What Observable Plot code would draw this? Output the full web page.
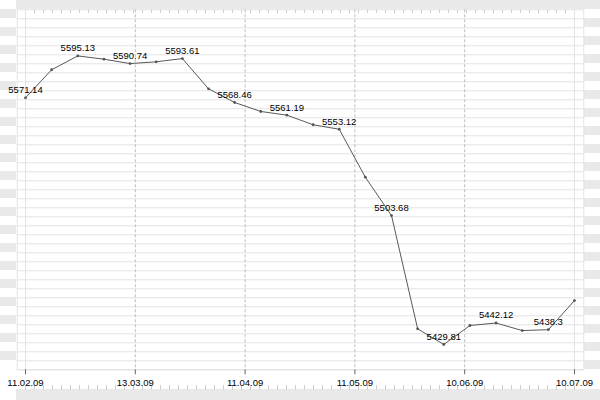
<!DOCTYPE html>
<html>
<head>
<meta charset="utf-8">
<script src="https://cdn.jsdelivr.net/npm/d3@7"></script>
<script src="https://cdn.jsdelivr.net/npm/@observablehq/plot@0.6"></script>
<style>
  html, body { margin: 0; padding: 0; background: #fff; }
  #chart {
    position: relative;
    width: 600px;
    height: 400px;
    background:
      /* top small ticks */
      repeating-linear-gradient(to right, #cfcfcf 0 1px, transparent 1px 9px) 25px 9px / 550px 4px no-repeat,
      /* bottom small ticks */
      repeating-linear-gradient(to right, #cfcfcf 0 1px, transparent 1px 9px) 25px 385px / 550px 5px no-repeat,
      /* top band */
      linear-gradient(#e9e9e9, #e9e9e9) 16px 0 / 584px 9px no-repeat,
      /* bottom band */
      linear-gradient(#e9e9e9, #e9e9e9) 16px 389px / 584px 11px no-repeat,
      /* left stripes */
      repeating-linear-gradient(to bottom, #e9e9e9 0 9px, #fff 9px 18px) 0 9px / 16px 360px no-repeat,
      /* right stripes */
      repeating-linear-gradient(to bottom, #fff 0 9px, #e9e9e9 9px 18px) 584px 9px / 16px 360px no-repeat,
      #fff;
  }
  #chart svg { position: absolute; left: 0; top: 0; }
</style>
</head>
<body>
<div id="chart"></div>
<script>
// Tick labels (dates) shown along the x axis
const dateLabels = ["11.02.09", "13.03.09", "11.04.09", "11.05.09", "10.06.09", "10.07.09"];

// Series values, one per observation (22 points)
const values = [
  5571.14, 5587.2, 5595.13, 5593.25, 5590.74, 5591.76, 5593.61, 5576.3,
  5568.46, 5563.3, 5561.19, 5555.7, 5553.12, 5525.65, 5503.68, 5438.8,
  5429.81, 5440.7, 5442.12, 5437.8, 5438.3, 5455.0
];

const data = values.map((v, i) => ({i, value: v}));
const n = values.length - 1;
const tickPos = dateLabels.map((_, k) => k * n / (dateLabels.length - 1));

const yMin = 5415.32, yMax = 5621.55;
const gridVals = d3.range(40).map(k => yMin + k * (yMax - yMin) / 40);

const font = "Liberation Sans, Arial, sans-serif";

const chart = Plot.plot({
  width: 600,
  height: 400,
  marginLeft: 25,
  marginRight: 26,
  marginTop: 9.3,
  marginBottom: 30.7,
  style: {background: "transparent", fontFamily: font, fontSize: "9.5px", overflow: "visible"},
  x: {type: "linear", domain: [0, n], axis: null, label: null},
  y: {type: "linear", domain: [yMin, yMax], axis: null, label: null},
  marks: [
    Plot.ruleY(gridVals, {stroke: "#e3e3e3", insetLeft: -8.3, insetRight: -9.3}),
    Plot.frame({stroke: "#e3e3e3", insetLeft: -8.3, insetRight: -9.3}),
    Plot.ruleX([tickPos[0], tickPos[tickPos.length - 1]], {stroke: "#e3e3e3"}),
    Plot.ruleX(tickPos.slice(1, -1), {stroke: "#bdbdbd", strokeDasharray: "3,2"}),
    Plot.axisX(tickPos, {
      tickFormat: (d, k) => dateLabels[k],
      tickSize: 5,
      tickPadding: 4.5,
      stroke: "#666",
      fill: "#000",
      fontSize: 9.5,
      fontFamily: font,
      label: null
    }),
    Plot.line(data, {x: "i", y: "value", stroke: "#595959", strokeWidth: 1}),
    Plot.dot(data, {x: "i", y: "value", r: 1.4, fill: "#555", stroke: null}),
    Plot.text(data.filter(d => d.i % 2 === 0), {
      x: "i",
      y: "value",
      text: d => String(d.value),
      textAnchor: "middle",
      lineAnchor: "middle",
      dy: -7.6,
      fill: "#000",
      fontSize: 9.5,
      fontFamily: font
    })
  ]
});

document.getElementById("chart").appendChild(chart);
</script>
</body>
</html>
